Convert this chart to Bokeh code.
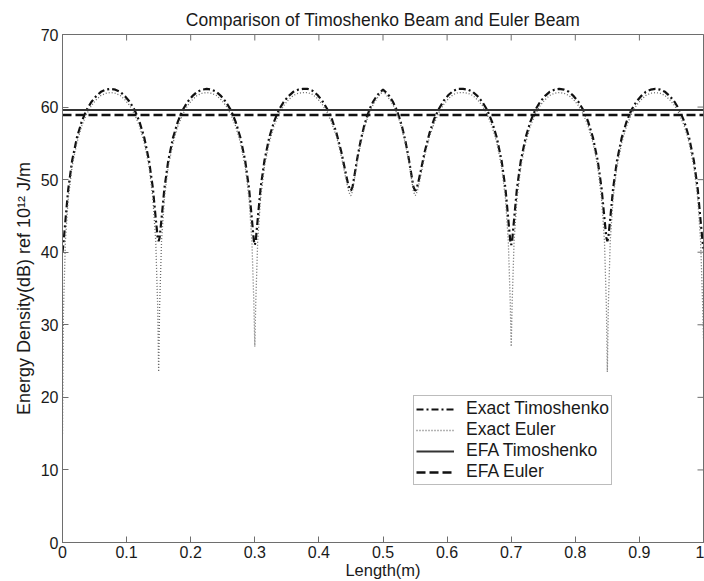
import math
from bokeh.plotting import figure
from bokeh.models import (Range1d, FixedTicker, Legend, LegendItem)
from bokeh.embed import file_html
from bokeh.resources import INLINE

# ---------------- data ----------------
x_arch1 = [0.0, 0.0015, 0.0045, 0.009, 0.015, 0.0225, 0.03, 0.0375, 0.045, 0.0525, 0.06, 0.0675, 0.075,
           0.0825, 0.09, 0.0975, 0.105, 0.1125, 0.12, 0.1275, 0.135, 0.141, 0.1455, 0.1485]
x_arch2 = [0.15, 0.1515, 0.1545, 0.159, 0.165, 0.1725, 0.18, 0.1875, 0.195, 0.2025, 0.21, 0.2175, 0.225,
           0.2325, 0.24, 0.2475, 0.255, 0.2625, 0.27, 0.2775, 0.285, 0.291, 0.2955, 0.2985]
x_arch3 = [0.3, 0.3015, 0.3045, 0.309, 0.315, 0.3225, 0.33, 0.3375, 0.345, 0.3525, 0.36, 0.3675, 0.375,
           0.3825, 0.39, 0.3975, 0.405, 0.4125, 0.42, 0.4275, 0.435, 0.441, 0.4455, 0.4485]
x_arch4 = [0.45, 0.4525, 0.455, 0.46, 0.465, 0.47, 0.475, 0.48, 0.485, 0.49, 0.495, 0.5,
           0.505, 0.51, 0.515, 0.52, 0.525, 0.53, 0.535, 0.54, 0.545, 0.5475]
x_arch5 = [0.55, 0.5515, 0.5545, 0.559, 0.565, 0.5725, 0.58, 0.5875, 0.595, 0.6025, 0.61, 0.6175, 0.625,
           0.6325, 0.64, 0.6475, 0.655, 0.6625, 0.67, 0.6775, 0.685, 0.691, 0.6955, 0.6985]
x_arch6 = [0.7, 0.7015, 0.7045, 0.709, 0.715, 0.7225, 0.73, 0.7375, 0.745, 0.7525, 0.76, 0.7675, 0.775,
           0.7825, 0.79, 0.7975, 0.805, 0.8125, 0.82, 0.8275, 0.835, 0.841, 0.8455, 0.8485]
x_arch7 = [0.85, 0.8515, 0.8545, 0.859, 0.865, 0.8725, 0.88, 0.8875, 0.895, 0.9025, 0.91, 0.9175, 0.925,
           0.9325, 0.94, 0.9475, 0.955, 0.9625, 0.97, 0.9775, 0.985, 0.991, 0.9955, 0.9985, 1.0]

timo_arch1 = [40.0, 41.2, 44.3, 48.7, 52.6, 55.8, 58.0, 59.6, 60.7, 61.5, 62.1, 62.4, 62.5,
              62.4, 62.1, 61.5, 60.7, 59.6, 58.0, 55.8, 52.6, 48.8, 44.6, 42.0]
timo_arch2 = [41.5, 42.0, 44.6, 48.8, 52.6, 55.8, 58.0, 59.6, 60.7, 61.5, 62.1, 62.4, 62.5,
              62.4, 62.1, 61.5, 60.7, 59.6, 58.0, 55.8, 52.6, 48.8, 44.5, 41.6]
timo_arch3 = [41.0, 41.6, 44.5, 48.8, 52.6, 55.8, 58.0, 59.6, 60.7, 61.5, 62.1, 62.4, 62.5,
              62.5, 62.25, 61.7, 60.9, 59.8, 58.4, 56.4, 53.8, 51.25, 49.4, 48.6]
timo_arch4 = [48.5, 49.0, 50.3, 53.0, 55.3, 57.2, 58.7, 59.9, 60.8, 61.5, 62.0, 62.4,
              62.0, 61.5, 60.8, 59.9, 58.7, 57.2, 55.3, 53.0, 50.3, 49.0]
timo_arch5 = [48.5, 48.6, 49.4, 51.25, 53.8, 56.4, 58.4, 59.8, 60.9, 61.7, 62.25, 62.5, 62.5,
              62.4, 62.1, 61.5, 60.7, 59.6, 58.0, 55.8, 52.6, 48.8, 44.5, 41.6]
timo_arch6 = [41.0, 41.6, 44.5, 48.8, 52.6, 55.8, 58.0, 59.6, 60.7, 61.5, 62.1, 62.4, 62.5,
              62.4, 62.1, 61.5, 60.7, 59.6, 58.0, 55.8, 52.6, 48.8, 44.6, 42.0]
timo_arch7 = [41.5, 42.0, 44.6, 48.8, 52.6, 55.8, 58.0, 59.6, 60.7, 61.5, 62.1, 62.4, 62.5,
              62.4, 62.1, 61.5, 60.7, 59.6, 58.0, 55.8, 52.6, 48.7, 44.3, 41.5, 40.5]

euler_arch1 = [15.0, 32.0, 41.5, 47.4, 51.8, 55.1, 57.4, 59.0, 60.2, 61.0, 61.6, 61.9, 62.0,
               61.9, 61.6, 61.0, 60.2, 59.0, 57.4, 55.1, 51.8, 47.4, 41.5, 32.5]
euler_arch2 = [23.5, 32.5, 41.5, 47.4, 51.8, 55.1, 57.4, 59.0, 60.2, 61.0, 61.6, 61.9, 62.0,
               61.9, 61.6, 61.0, 60.2, 59.0, 57.4, 55.1, 51.8, 47.4, 41.5, 33.1]
euler_arch3 = [27.0, 33.1, 41.5, 47.4, 51.8, 55.1, 57.4, 59.0, 60.2, 61.0, 61.6, 61.9, 62.0,
               62.0, 61.75, 61.2, 60.4, 59.3, 57.8, 55.9, 53.25, 50.6, 48.7, 47.9]
euler_arch4 = [47.8, 48.4, 49.8, 52.6, 54.9, 56.8, 58.3, 59.5, 60.4, 61.1, 61.7, 62.2,
               61.7, 61.1, 60.4, 59.5, 58.3, 56.8, 54.9, 52.6, 49.8, 48.4]
euler_arch5 = [47.8, 47.9, 48.7, 50.6, 53.25, 55.9, 57.8, 59.3, 60.4, 61.2, 61.75, 62.0, 62.0,
               61.9, 61.6, 61.0, 60.2, 59.0, 57.4, 55.1, 51.8, 47.4, 41.5, 33.1]
euler_arch6 = [27.0, 33.1, 41.5, 47.4, 51.8, 55.1, 57.4, 59.0, 60.2, 61.0, 61.6, 61.9, 62.0,
               61.9, 61.6, 61.0, 60.2, 59.0, 57.4, 55.1, 51.8, 47.4, 41.5, 32.5]
euler_arch7 = [23.5, 32.5, 41.5, 47.4, 51.8, 55.1, 57.4, 59.0, 60.2, 61.0, 61.6, 61.9, 62.0,
               61.9, 61.6, 61.0, 60.2, 59.0, 57.4, 55.1, 51.8, 47.4, 41.5, 33.2, 28.0]

efa_x = [0.0, 1.0]
efa_timoshenko = [59.6, 59.6]
efa_euler = [58.9, 58.9]

x_ticks = [0.0, 0.1, 0.2, 0.3, 0.4, 0.5, 0.6, 0.7, 0.8, 0.9, 1.0]
y_ticks = [0, 10, 20, 30, 40, 50, 60, 70]

length_m = x_arch1 + x_arch2 + x_arch3 + x_arch4 + x_arch5 + x_arch6 + x_arch7
exact_timoshenko = timo_arch1 + timo_arch2 + timo_arch3 + timo_arch4 + timo_arch5 + timo_arch6 + timo_arch7
exact_euler = euler_arch1 + euler_arch2 + euler_arch3 + euler_arch4 + euler_arch5 + euler_arch6 + euler_arch7

# ---------------- figure ----------------
FONT = "Liberation Sans"
TXT = "#1a1a1a"
AX = "#6e6e6e"

p = figure(width=704, height=581, output_backend="svg", toolbar_location=None,
           x_range=Range1d(0, 1), y_range=Range1d(0, 70),
           min_border_left=62, min_border_right=1, min_border_top=34, min_border_bottom=0)
p.title.text = "Comparison of Timoshenko Beam and Euler Beam"
p.title.align = "center"
p.title.vertical_align = "top"
p.title.text_font = FONT
p.title.text_font_size = "17.5px"
p.title.text_font_style = "normal"
p.title.text_color = TXT
p.title.standoff = 5

p.xgrid.visible = False
p.ygrid.visible = False
p.outline_line_color = AX
p.background_fill_color = "white"
p.border_fill_color = "white"

for ax in p.xaxis + p.yaxis:
    ax.major_label_text_font = FONT
    ax.major_label_text_font_size = "16px"
    ax.major_label_text_color = TXT
    ax.axis_label_text_font = FONT
    ax.axis_label_text_font_size = "16.5px"
    ax.axis_label_text_font_style = "normal"
    ax.axis_label_text_color = TXT
    ax.axis_line_color = AX
    ax.major_tick_line_color = AX
    ax.major_tick_in = 6
    ax.major_tick_out = 0
    ax.minor_tick_line_color = None

p.xaxis.ticker = FixedTicker(ticks=x_ticks)
p.yaxis.ticker = FixedTicker(ticks=y_ticks)
p.xaxis.major_label_overrides = {0: "0", 1: "1"}
p.xaxis.axis_label = "Length(m)"
p.yaxis.axis_label = "Energy Density(dB) ref 10\u00b9\u00b2 J/m"
p.yaxis.axis_label_text_font_size = "18px"
p.xaxis.major_label_standoff = 3
p.xaxis.axis_label_standoff = 0
p.yaxis.major_label_standoff = 4
p.yaxis.axis_label_standoff = 4

# mirrored tick marks on top and right edges (MATLAB box style), clipped to the frame
top_tick_y = [y_ticks[-1]] * len(x_ticks)
right_tick_x = [x_ticks[-1]] * len(y_ticks)
p.scatter(x_ticks, top_tick_y, marker="dash", size=12, angle=math.pi / 2,
          line_color=AX, line_width=1)
p.scatter(right_tick_x, y_ticks, marker="dash", size=12,
          line_color=AX, line_width=1)

r_et = p.line(length_m, exact_timoshenko, line_color="#111111", line_width=2.2, line_dash="7 3 2 3")
r_ee = p.line(length_m, exact_euler, line_color="#6a6a6a", line_width=1.3, line_dash="1 2")
r_ft = p.line(efa_x, efa_timoshenko, line_color="#333333", line_width=2)
r_fe = p.line(efa_x, efa_euler, line_color="#111111", line_width=2.5, line_dash="9 4")

legend = Legend(items=[
    LegendItem(label="Exact Timoshenko", renderers=[r_et]),
    LegendItem(label="Exact Euler", renderers=[r_ee]),
    LegendItem(label="EFA Timoshenko", renderers=[r_ft]),
    LegendItem(label="EFA Euler", renderers=[r_fe]),
], location=(351, 57))
legend.label_text_font = FONT
legend.label_text_font_size = "17.5px"
legend.label_text_color = TXT
legend.label_height = 18
legend.glyph_height = 18
legend.glyph_width = 38
legend.label_standoff = 12
legend.spacing = 0
legend.padding = 2
legend.margin = 0
legend.border_line_color = "#7a7a7a"
legend.border_line_width = 1.5
legend.background_fill_color = "white"
legend.background_fill_alpha = 1.0
p.add_layout(legend, "center")

open("out.html", "w").write(file_html(p, INLINE))
